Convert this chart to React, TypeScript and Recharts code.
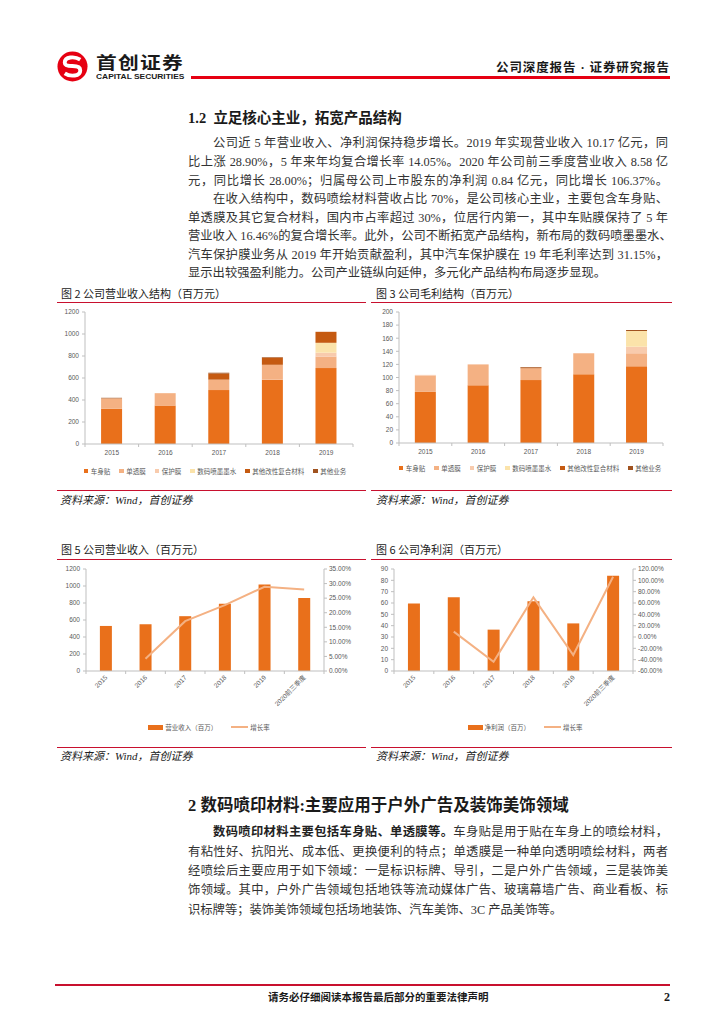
import React from "react";
import { BarChart, Bar, XAxis, YAxis, Legend, ComposedChart, Line } from "recharts";

// 图2 / 图3 stacked structure (百万元)
const years = ["2015", "2016", "2017", "2018", "2019"];
const productNames = ["车身贴", "单透膜", "保护膜", "数码喷墨墨水", "其他改性复合材料", "其他业务"];
const productKeys = ["body", "oneWay", "protect", "ink", "composite", "other"];
const productColors = ["#E9701B", "#F4B183", "#F8CBAD", "#FBE3AA", "#C55A11", "#A0521F"];

const revBody = [320, 350, 490, 585, 690];
const revOneWay = [95, 112, 95, 135, 105];
const revProtect = [0, 0, 0, 0, 35];
const revInk = [0, 0, 0, 0, 90];
const revComposite = [0, 0, 55, 65, 100];
const revOther = [5, 0, 8, 5, 0];

const gpBody = [78, 88, 96, 105, 117];
const gpOneWay = [25, 32, 18, 32, 20];
const gpProtect = [1, 0, 0, 0, 10];
const gpInk = [0, 0, 0, 0, 24];
const gpComposite = [0, 0, 1, 0, 0];
const gpOther = [0, 0, 1, 0, 1.5];

const revTicks = [0, 200, 400, 600, 800, 1000, 1200];
const gpTicks = [0, 20, 40, 60, 80, 100, 120, 140, 160, 180, 200];

// 图5 / 图6 trend
const periods = ["2015", "2016", "2017", "2018", "2019", "2020前三季度"];
const revenue = [530, 550, 645, 790, 1017, 858];
const revenueGrowth = [null, 4.2, 17.1, 22.6, 28.9, 28.0];
const profit = [59.5, 65, 36.5, 61.5, 42, 84];
const profitGrowth = [null, 9.5, -43.8, 70, -31.7, 106.37];

const revPctTicks = [0, 5, 10, 15, 20, 25, 30, 35];
const profitTicks = [0, 10, 20, 30, 40, 50, 60, 70, 80, 90];
const profitPctTicks = [-60, -40, -20, 0, 20, 40, 60, 80, 100, 120];

const stackRows = (cols: number[][]) =>
  years.map((year, i) => {
    const row: Record<string, any> = { year };
    productKeys.forEach((k, j) => (row[k] = cols[j][i]));
    return row;
  });

const revenueRows = stackRows([revBody, revOneWay, revProtect, revInk, revComposite, revOther]);
const grossRows = stackRows([gpBody, gpOneWay, gpProtect, gpInk, gpComposite, gpOther]);
const revenueTrend = periods.map((period, i) => ({ period, value: revenue[i], growth: revenueGrowth[i] }));
const profitTrend = periods.map((period, i) => ({ period, value: profit[i], growth: profitGrowth[i] }));

const serif = "'Liberation Serif', 'Noto Sans CJK SC', serif";
const sans = "'Liberation Sans', 'Noto Sans CJK SC', sans-serif";
const cjkSans = "'Noto Sans CJK SC', sans-serif";
const ink = "#595959";
const axisColor = "#BFBFBF";
const red = "#C8102E";
const tickFont = { fontSize: 6.5, fill: ink, fontFamily: sans };

const FlatTick = (props: any) => {
  const { x, y, payload, width, visibleTicksCount, index } = props;
  const cw = width / visibleTicksCount;
  return (
    <g>
      <line x1={x - cw / 2} y1={y} x2={x - cw / 2} y2={y + 3} stroke={axisColor} />
      {index === visibleTicksCount - 1 && <line x1={x + cw / 2} y1={y} x2={x + cw / 2} y2={y + 3} stroke={axisColor} />}
      <text x={x} y={y + 11} textAnchor="middle" {...tickFont}>
        {payload.value}
      </text>
    </g>
  );
};

const SlantTick = (props: any) => {
  const { x, y, payload, width, visibleTicksCount, index } = props;
  const cw = width / visibleTicksCount;
  return (
    <g>
      <line x1={x - cw / 2} y1={y} x2={x - cw / 2} y2={y + 3} stroke={axisColor} />
      {index === visibleTicksCount - 1 && <line x1={x + cw / 2} y1={y} x2={x + cw / 2} y2={y + 3} stroke={axisColor} />}
      <text x={x + 2} y={y + 7} textAnchor="end" transform={`rotate(-45 ${x + 2} ${y + 7})`} {...tickFont}>
        {payload.value}
      </text>
    </g>
  );
};

const SquareLegend = () => (
  <div style={{ display: "flex", justifyContent: "center", gap: 9, fontSize: 6.5, color: ink, fontFamily: cjkSans, lineHeight: "10px" }}>
    {productNames.map((n, i) => (
      <span key={n} style={{ display: "flex", alignItems: "center" }}>
        <span style={{ width: 4.5, height: 4.5, background: productColors[i], marginRight: 2.5, display: "inline-block" }} />
        {n}
      </span>
    ))}
  </div>
);

const ComboLegend = ({ barName }: { barName: string }) => (
  <div style={{ display: "flex", justifyContent: "center", alignItems: "center", gap: 14, fontSize: 6.5, color: ink, fontFamily: cjkSans, lineHeight: "10px" }}>
    <span style={{ display: "flex", alignItems: "center" }}>
      <span style={{ width: 15, height: 5, background: "#E9701B", marginRight: 2, display: "inline-block" }} />
      {barName}
    </span>
    <span style={{ display: "flex", alignItems: "center" }}>
      <span style={{ width: 17, height: 2, background: "#F4B183", marginRight: 2, display: "inline-block" }} />
      增长率
    </span>
  </div>
);

const StackChart = ({ rows, ticks, yWidth, mRight, mTop, mBottom, legendTop }: any) => (
  <BarChart width={310} height={180} data={rows} margin={{ top: mTop, right: mRight, left: 0, bottom: mBottom }} barCategoryGap="30%">
    <XAxis dataKey="year" interval={0} height={14} tickSize={0} tickMargin={0} tickLine={false} axisLine={{ stroke: axisColor }} tick={(p: any) => <FlatTick {...p} />} />
    <YAxis width={yWidth} domain={[ticks[0], ticks[ticks.length - 1]]} ticks={ticks} interval={0} tickSize={3} tickMargin={3} tick={tickFont} axisLine={{ stroke: axisColor }} tickLine={{ stroke: axisColor }} />
    {productKeys.map((k, i) => (
      <Bar key={k} dataKey={k} name={productNames[i]} stackId="a" fill={productColors[i]} isAnimationActive={false} />
    ))}
    <Legend layout="horizontal" verticalAlign="middle" align="center" wrapperStyle={{ top: legendTop, left: 10, width: 300 }} content={() => <SquareLegend />} />
  </BarChart>
);

const TrendChart = ({ rows, leftTicks, rightTicks, leftWidth, rightWidth, mRight, mTop, barName, legendLeft }: any) => (
  <ComposedChart width={310} height={185} data={rows} margin={{ top: mTop, right: mRight, left: 0, bottom: 27 }} barCategoryGap="35%">
    <XAxis dataKey="period" interval={0} height={50} tickSize={0} tickMargin={0} tickLine={false} axisLine={{ stroke: axisColor }} tick={(p: any) => <SlantTick {...p} />} />
    <YAxis yAxisId="l" width={leftWidth} domain={[leftTicks[0], leftTicks[leftTicks.length - 1]]} ticks={leftTicks} interval={0} tickSize={3} tickMargin={3} tick={tickFont} axisLine={{ stroke: axisColor }} tickLine={{ stroke: axisColor }} />
    <YAxis yAxisId="r" orientation="right" width={rightWidth} domain={[rightTicks[0], rightTicks[rightTicks.length - 1]]} ticks={rightTicks} interval={0} tickSize={3} tickMargin={2} tick={tickFont} tickFormatter={(v: number) => v.toFixed(2) + "%"} axisLine={{ stroke: axisColor }} tickLine={{ stroke: axisColor }} />
    <Bar yAxisId="l" dataKey="value" name={barName} fill="#E9701B" isAnimationActive={false} />
    <Line yAxisId="r" dataKey="growth" name="增长率" stroke="#F4B183" strokeWidth={2} dot={false} isAnimationActive={false} />
    <Legend layout="horizontal" verticalAlign="middle" align="center" wrapperStyle={{ top: 159, left: legendLeft, width: 240 }} content={() => <ComboLegend barName={barName} />} />
  </ComposedChart>
);

const TextRow = ({ top, children, indent = false, justify = true }: any) => (
  <div
    style={{
      position: "absolute",
      left: 188,
      top,
      width: 480,
      fontSize: 12.3,
      lineHeight: "16px",
      paddingLeft: indent ? 25 : 0,
      boxSizing: "border-box",
      textAlign: justify ? "justify" : "left",
      textAlignLast: justify ? "justify" : "left",
      color: "#333",
      whiteSpace: "nowrap",
    }}
  >
    {children}
  </div>
);

const abs = (left: number, top: number, extra: React.CSSProperties = {}): React.CSSProperties => ({ position: "absolute", left, top, ...extra });

const FigTitle = ({ left, top, text }: any) => (
  <div style={abs(left, top, { fontSize: 11, lineHeight: "14px", fontFamily: cjkSans, color: "#222" })}>{text}</div>
);

const Source = ({ left, top }: any) => (
  <div style={abs(left, top, { fontSize: 11, lineHeight: "14px", fontFamily: serif, fontStyle: "italic", color: "#222" })}>资料来源：Wind，首创证券</div>
);

const Rule = ({ left, top, width, h = 1, color = red }: any) => <div style={abs(left, top, { width, height: h, background: color })} />;

export default function App() {
  return (
    <div style={{ position: "relative", width: 724, height: 1024, margin: -8, background: "#fff", overflow: "hidden", fontFamily: serif, color: "#222" }}>
      {/* header */}
      <svg style={abs(57, 51)} width={31} height={31} viewBox="0 0 32 32">
        <circle cx={16} cy={16} r={15.5} fill="#E60012" />
        <path d="M24 9 C18 5, 8 6, 8 12 C8 15, 12 15.5, 16 15.5 C20 15.5, 24 16.5, 24 20 C24 26, 14 27, 8 23" fill="none" stroke="#fff" strokeWidth={4} />
      </svg>
      <div style={abs(96, 51.5, { fontSize: 17, lineHeight: "20px", fontWeight: 700, fontFamily: cjkSans, color: "#1a1a1a", letterSpacing: 1, transform: "scaleX(1.22)", transformOrigin: "left center" })}>首创证券</div>
      <div style={abs(96, 71.5, { fontSize: 7, lineHeight: "9px", fontWeight: 700, fontFamily: sans, color: "#1a1a1a", transform: "scaleX(1.2)", transformOrigin: "left center", whiteSpace: "nowrap" })}>CAPITAL SECURITIES</div>
      <Rule left={191} top={76} width={479} h={2.5} color="#E60012" />
      <div style={abs(496, 60, { fontSize: 12.5, lineHeight: "16px", fontWeight: 700, fontFamily: serif, color: "#1a1a1a", letterSpacing: 0.9 })}>公司深度报告 · 证券研究报告</div>

      {/* section 1.2 */}
      <div style={abs(188, 109, { fontSize: 14.5, lineHeight: "18px", fontWeight: 700, color: "#1a1a1a" })}>1.2&nbsp;&nbsp;立足核心主业，拓宽产品结构</div>
      <TextRow top={135} indent>公司近 5 年营业收入、净利润保持稳步增长。2019 年实现营业收入 10.17 亿元，同</TextRow>
      <TextRow top={154}>比上涨 28.90%，5 年来年均复合增长率 14.05%。2020 年公司前三季度营业收入 8.58 亿</TextRow>
      <TextRow top={173}>元，同比增长 28.00%；归属母公司上市股东的净利润 0.84 亿元，同比增长 106.37%。</TextRow>
      <TextRow top={191} indent>在收入结构中，数码喷绘材料营收占比 70%，是公司核心主业，主要包含车身贴、</TextRow>
      <TextRow top={209.5}>单透膜及其它复合材料，国内市占率超过 30%，位居行内第一，其中车贴膜保持了 5 年</TextRow>
      <TextRow top={228}>营业收入 16.46%的复合增长率。此外，公司不断拓宽产品结构，新布局的数码喷墨墨水、</TextRow>
      <TextRow top={246.5}>汽车保护膜业务从 2019 年开始贡献盈利，其中汽车保护膜在 19 年毛利率达到 31.15%，</TextRow>
      <TextRow top={265} justify={false}>显示出较强盈利能力。公司产业链纵向延伸，多元化产品结构布局逐步显现。</TextRow>

      {/* figure 2 & 3 */}
      <FigTitle left={61} top={286} text="图 2  公司营业收入结构（百万元）" />
      <FigTitle left={376} top={286} text="图 3  公司毛利结构（百万元）" />
      <Rule left={57} top={302} width={309} />
      <Rule left={371} top={302} width={301} />
      <div style={abs(55, 305)}>
        <StackChart rows={revenueRows} ticks={revTicks} yWidth={30} mRight={12} mTop={7} mBottom={27} legendTop={161} />
      </div>
      <div style={abs(370, 305)}>
        <StackChart rows={grossRows} ticks={gpTicks} yWidth={29} mRight={17} mTop={7} mBottom={28} legendTop={158} />
      </div>
      <Rule left={57} top={490} width={309} />
      <Rule left={371} top={490} width={301} />
      <Source left={60} top={493} />
      <Source left={376} top={493} />

      {/* figure 5 & 6 */}
      <FigTitle left={61} top={542} text="图 5  公司营业收入（百万元）" />
      <FigTitle left={376} top={542} text="图 6  公司净利润（百万元）" />
      <Rule left={57} top={559} width={309} />
      <Rule left={371} top={559} width={301} />
      <div style={abs(55, 563)}>
        <TrendChart rows={revenueTrend} leftTicks={revTicks} rightTicks={revPctTicks} leftWidth={31} rightWidth={38} mRight={3} mTop={6} barName="营业收入（百万）" legendLeft={34} />
      </div>
      <div style={abs(370, 563)}>
        <TrendChart rows={profitTrend} leftTicks={profitTicks} rightTicks={profitPctTicks} leftWidth={24} rightWidth={44} mRight={3} mTop={6} barName="净利润（百万）" legendLeft={35} />
      </div>
      <Rule left={57} top={747} width={309} />
      <Rule left={371} top={747} width={301} />
      <Source left={60} top={749} />
      <Source left={376} top={749} />

      {/* section 2 */}
      <div style={abs(188, 796, { fontSize: 16.5, lineHeight: "20px", fontWeight: 700, color: "#1a1a1a" })}>2 数码喷印材料:主要应用于户外广告及装饰美饰领域</div>
      <TextRow top={824} indent>
        <b style={{ color: "#222" }}>数码喷印材料主要包括车身贴、单透膜等。</b>车身贴是用于贴在车身上的喷绘材料，
      </TextRow>
      <TextRow top={844}>有粘性好、抗阳光、成本低、更换便利的特点；单透膜是一种单向透明喷绘材料，两者</TextRow>
      <TextRow top={863}>经喷绘后主要应用于如下领域：一是标识标牌、导引，二是户外广告领域，三是装饰美</TextRow>
      <TextRow top={882}>饰领域。其中，户外广告领域包括地铁等流动媒体广告、玻璃幕墙广告、商业看板、标</TextRow>
      <TextRow top={902} justify={false}>识标牌等；装饰美饰领域包括场地装饰、汽车美饰、3C 产品美饰等。</TextRow>

      {/* footer */}
      <Rule left={55} top={984} width={615} h={2} />
      <div style={abs(268, 991, { fontSize: 10.5, lineHeight: "14px", fontWeight: 700, color: "#1a1a1a" })}>请务必仔细阅读本报告最后部分的重要法律声明</div>
      <div style={abs(664, 990, { fontSize: 12, lineHeight: "15px", fontWeight: 700, color: "#1a1a1a" })}>2</div>
    </div>
  );
}
